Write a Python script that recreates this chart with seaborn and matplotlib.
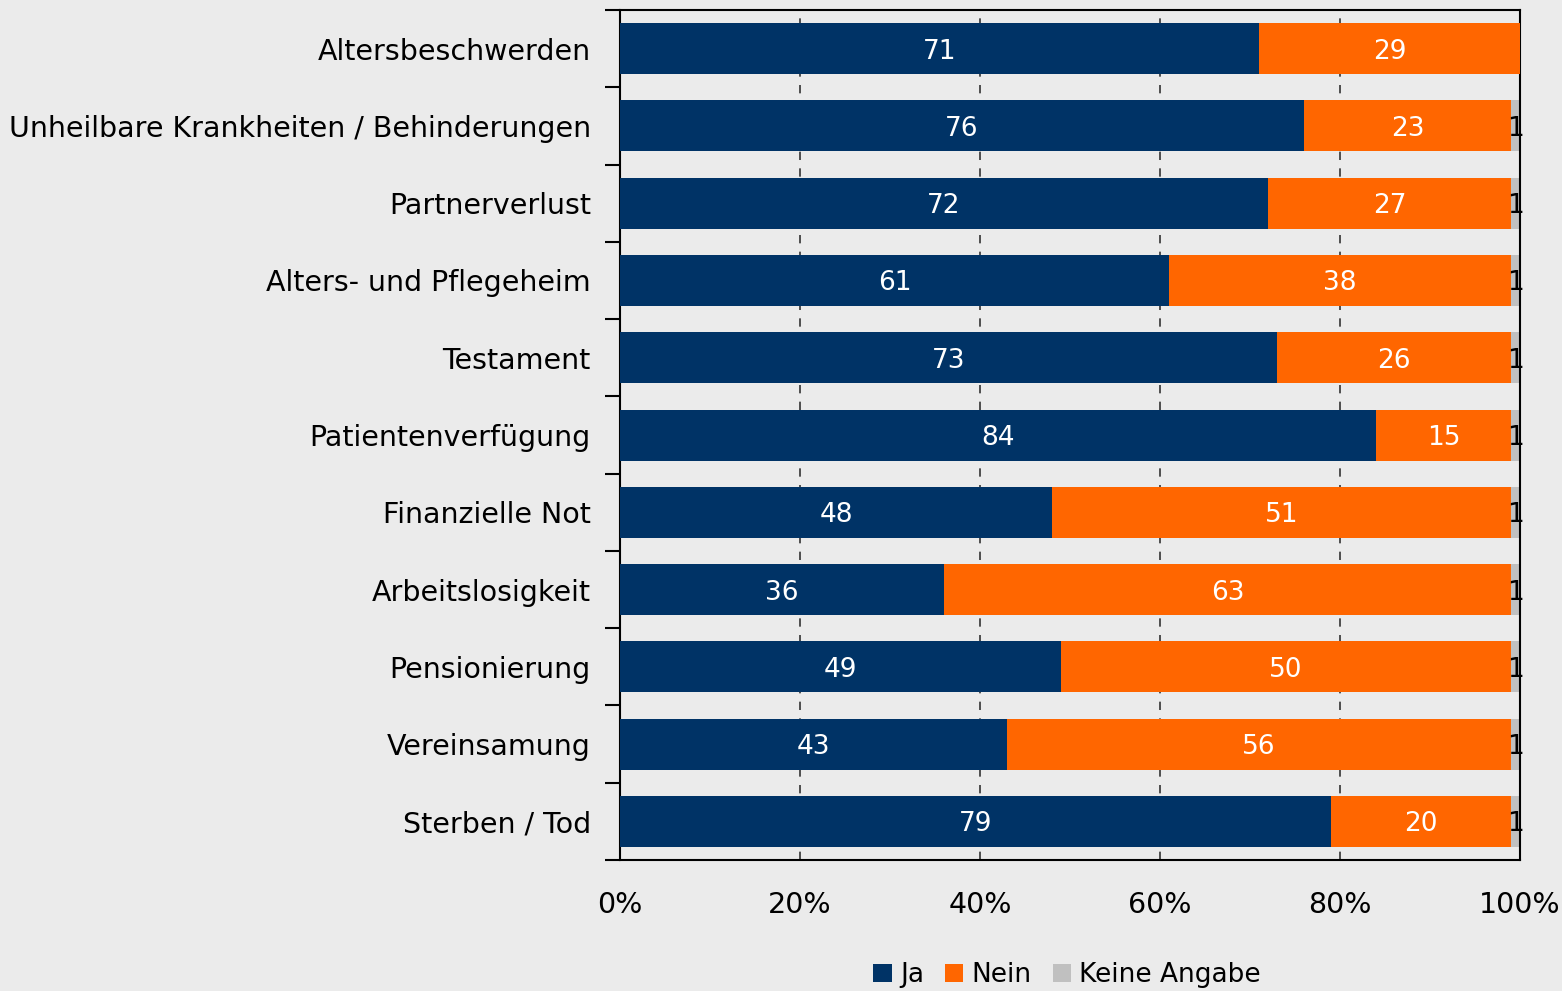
import pandas as pd
import matplotlib.pyplot as plt
import seaborn as sns
from matplotlib.patches import Patch

# data (percent)
categories = ["Altersbeschwerden", "Unheilbare Krankheiten / Behinderungen",
              "Partnerverlust", "Alters- und Pflegeheim", "Testament",
              "Patientenverfügung", "Finanzielle Not", "Arbeitslosigkeit",
              "Pensionierung", "Vereinsamung", "Sterben / Tod"]
ja = [71, 76, 72, 61, 73, 84, 48, 36, 49, 43, 79]
nein = [29, 23, 27, 38, 26, 15, 51, 63, 50, 56, 20]
keine = [0, 1, 1, 1, 1, 1, 1, 1, 1, 1, 1]
series_names = ["Ja", "Nein", "Keine Angabe"]
colors = ["#003366", "#ff6600", "#c0c0c0"]
xticks = [0, 20, 40, 60, 80, 100]

df = pd.DataFrame({"cat": categories, "ja": ja, "nein": nein, "keine": keine})
df["cum_nein"] = df["ja"] + df["nein"]
df["cum_all"] = df["cum_nein"] + df["keine"]

bg = "#ebebeb"
sns.set_style("white", {"ytick.left": True, "text.color": "black",
                        "xtick.color": "black", "ytick.color": "black"})
plt.rcParams["font.family"] = ["DejaVu Sans"]
fs = 20.5

fig = plt.figure(figsize=(15.62, 9.91), dpi=100, facecolor=bg)
ax = fig.add_axes([620 / 1562, 1 - 860 / 991, 900 / 1562, 850 / 991])
ax.set_facecolor(bg)

# dashed grid behind the bars
for v in xticks[1:-1]:
    ax.axvline(v, color="#333333", lw=1.2, ls=(0, (5, 5)), zorder=0)

# stacked bars: draw cumulative totals, longest first
bar_kw = dict(y="cat", width=0.66, saturation=1, ax=ax, linewidth=0)
sns.barplot(data=df, x="cum_all", color=colors[2], zorder=2, **bar_kw)
sns.barplot(data=df, x="cum_nein", color=colors[1], zorder=3, **bar_kw)
sns.barplot(data=df, x="ja", color=colors[0], zorder=4, **bar_kw)

# value labels
for i in range(len(categories)):
    ax.text(ja[i] / 2, i, str(ja[i]), color="white", fontsize=19,
            ha="center", va="center_baseline", zorder=5)
    ax.text(ja[i] + nein[i] / 2, i, str(nein[i]), color="white", fontsize=19,
            ha="center", va="center_baseline", zorder=5)
    if keine[i] > 0:
        ax.text(ja[i] + nein[i] + keine[i] / 2, i, str(keine[i]), color="black",
                fontsize=19, ha="center", va="center_baseline", zorder=5)

ax.set_xlim(0, 100)
ax.set_ylim(len(categories) - 0.5, -0.5)
ax.set_xlabel("")
ax.set_ylabel("")
ax.set_xticks(xticks)
ax.set_xticklabels([f"{v}%" for v in xticks], fontsize=fs)
ax.tick_params(axis="x", length=0, pad=22, labelcolor="black")
ax.tick_params(axis="y", which="major", length=0, pad=21, labelsize=fs,
               labelcolor="black")
ax.set_yticks([i - 0.5 for i in range(len(categories) + 1)], minor=True)
ax.tick_params(axis="y", which="minor", left=True, length=11, width=1.5,
               color="black", direction="out")

for s in ax.spines.values():
    s.set_visible(True)
    s.set_color("black")
    s.set_linewidth(1.5)

handles = [Patch(facecolor=c, edgecolor="none") for c in colors]
fig.legend(handles, series_names, loc="center", ncol=3, frameon=False,
           fontsize=19, bbox_to_anchor=(1067 / 1562, 1 - 975 / 991),
           handlelength=0.7, handleheight=0.7, handletextpad=0.3,
           columnspacing=0.8)

fig.savefig("out.png", dpi=100, facecolor=bg)
